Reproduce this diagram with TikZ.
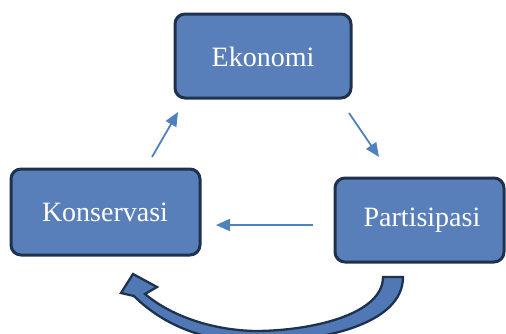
\documentclass[tikz,border=0pt]{standalone}
\usepackage{fontspec}
\setmainfont{Liberation Serif}
\usetikzlibrary{arrows.meta}
\definecolor{boxfill}{RGB}{88,127,185}
\definecolor{boxline}{RGB}{30,50,80}
\definecolor{arrowblue}{RGB}{79,129,189}
\definecolor{bigfill}{RGB}{80,120,180}
\tikzset{
  box/.style={draw=boxline, fill=boxfill, line width=3pt, rounded corners=10pt},
  boxtext/.style={text=white, font=\fontsize{28}{30}\selectfont, inner sep=0pt},
  thinarrow/.style={draw=arrowblue, line width=1.8pt, -{Triangle[length=14pt,width=12pt]}},
}
\begin{document}
\begin{tikzpicture}[x=1pt,y=-1pt]
\useasboundingbox (0,0) rectangle (506,333);
% boxes
\draw[box] (175,14) rectangle (351,98);
\node[boxtext] (ek) at (263,57) {Ekonomi};
\draw[box] (11,169) rectangle (200,255);
\node[boxtext] (kon) at (105,212) {Konservasi};
\draw[box] (335,178) rectangle (504,262);
\node[boxtext] (par) at (422,220) {Partisipasi};
% arrow endpoints
\coordinate (a1s) at (349,113);
\coordinate (a1e) at (379,157);
\coordinate (a2s) at (313,225);
\coordinate (a2e) at (216,225);
\coordinate (a3s) at (152,157);
\coordinate (a3e) at (178,112);
\draw[thinarrow] (a1s) -- (a1e);
\draw[thinarrow] (a2s) -- (a2e);
\draw[thinarrow] (a3s) -- (a3e);
% big curved arrow
\draw[draw=boxline, fill=bigfill, line width=2.3pt, line join=miter]
  (383,277) -- (403,277)
  .. controls (403,325) and (320,342) .. (255,342)
  .. controls (200,342) and (160,322) .. (134,296)
  -- (121,293) -- (133,274) -- (157,287) -- (145,294)
  .. controls (170,315) and (210,330) .. (255,331)
  .. controls (310,331) and (383,315) .. cycle;
\end{tikzpicture}
\end{document}
